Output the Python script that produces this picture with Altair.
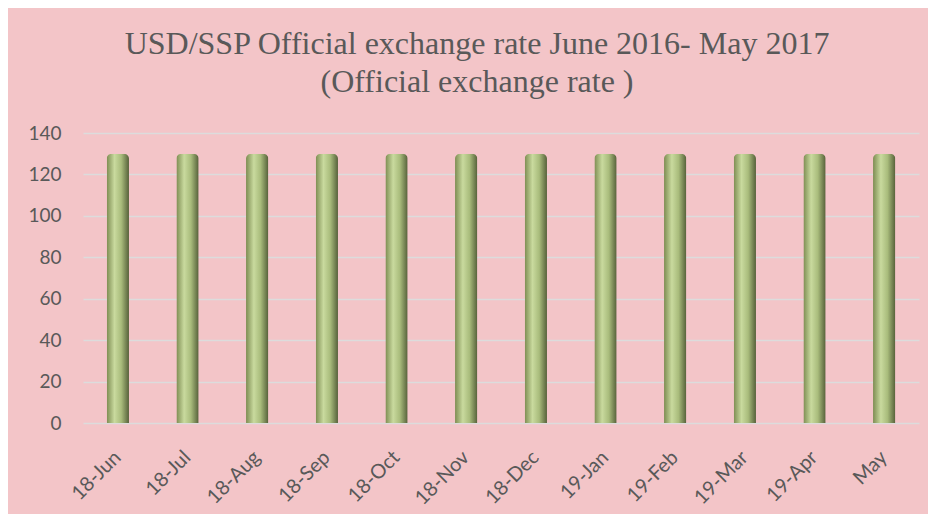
import altair as alt
import pandas as pd

months = ["18-Jun", "18-Jul", "18-Aug", "18-Sep", "18-Oct", "18-Nov",
          "18-Dec", "19-Jan", "19-Feb", "19-Mar", "19-Apr", "May"]
rates = [130, 130, 130, 130, 130, 130, 130, 130, 130, 130, 130, 130]
y_ticks = [0, 20, 40, 60, 80, 100, 120, 140]

df = pd.DataFrame({"month": months, "rate": rates})

grad = alt.Gradient(
    gradient="linear",
    stops=[
        alt.GradientStop(color="#7d8c52", offset=0),
        alt.GradientStop(color="#c9da9e", offset=0.35),
        alt.GradientStop(color="#a9bc7c", offset=0.65),
        alt.GradientStop(color="#56613a", offset=1),
    ],
    x1=0, x2=1, y1=0, y2=0,
)

chart = alt.Chart(df).mark_bar(
    color=grad,
    cornerRadiusTopLeft=5,
    cornerRadiusTopRight=5,
).encode(
    x=alt.X("month:N", sort=months, title=None,
            scale=alt.Scale(paddingInner=0.68, paddingOuter=0.34),
            axis=alt.Axis(labelAngle=-45, labelAlign="right", labelBaseline="middle",
                          labelFont="Lato", labelFontSize=20, labelColor="#595959",
                          labelPadding=31, ticks=False, domain=False, grid=False)),
    y=alt.Y("rate:Q", title=None,
            scale=alt.Scale(domain=[0, 140], nice=False),
            axis=alt.Axis(values=y_ticks, labelFont="Lato", labelFontSize=19,
                          labelColor="#595959", labelPadding=22, ticks=False,
                          domain=False, grid=True, gridColor="#dcdcdc", gridWidth=1.5)),
).properties(
    width=836,
    height=290,
    title=alt.TitleParams(
        text=["USD/SSP Official exchange rate June 2016- May 2017", "(Official exchange rate )"],
        font="Liberation Serif", fontSize=32, fontWeight="normal", color="#595959",
        lineHeight=38, anchor="middle", dx=-24, offset=25, frame="group",
    ),
    background="#f3c5c8",
    padding={"left": 75, "top": 125, "right": 9, "bottom": 91},
    autosize=alt.AutoSizeParams(type="none"),
).configure_view(stroke=None)

chart.save("out.html", embed_options={"renderer": "svg", "actions": False})
